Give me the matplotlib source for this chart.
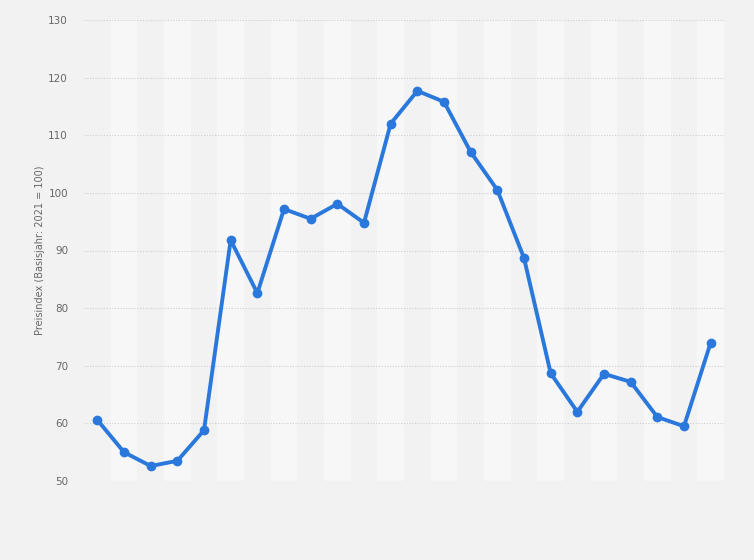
import matplotlib.pyplot as plt

# Daten
punkte = list(range(24))
preisindex = [60.6, 55.0, 52.6, 53.5, 58.8, 91.8, 82.6, 97.2, 95.5, 98.1, 94.8, 112.0,
              117.7, 115.8, 107.1, 100.5, 88.7, 68.7, 62.0, 68.6, 67.2, 61.1, 59.5, 74.0]
y_ticks = [50, 60, 70, 80, 90, 100, 110, 120, 130]

fig = plt.figure(figsize=(7.54, 5.6), dpi=100, facecolor="#f2f2f2")
ax = fig.add_axes([84/754, (560-481)/560, 640/754, 461/560])
ax.set_facecolor("#f2f2f2")

# abwechselnde Spalten
for i in punkte:
    if i % 2 == 1:
        ax.axvspan(i - 0.5, i + 0.5, color="#f7f7f7", zorder=0, lw=0)

for y in y_ticks:
    ax.axhline(y, color="#cfcfcf", lw=0.8, ls=(0, (1, 1.5)), zorder=1)

ax.plot(punkte, preisindex, color="#2a78dc", lw=2.8, marker="o", markersize=6,
        zorder=3, solid_joinstyle="round")

ax.set_xlim(-0.5, 23.5)
ax.set_ylim(50, 130)
ax.set_xticks([])
ax.set_yticks(y_ticks)
ax.tick_params(axis="y", length=0, pad=11.5, labelsize=7.5, labelcolor="#666666")
for s in ax.spines.values():
    s.set_visible(False)

ax.set_ylabel("Preisindex (Basisjahr: 2021 = 100)", fontsize=7, color="#666666", labelpad=2)

plt.savefig("out.png", dpi=100, facecolor=fig.get_facecolor())
